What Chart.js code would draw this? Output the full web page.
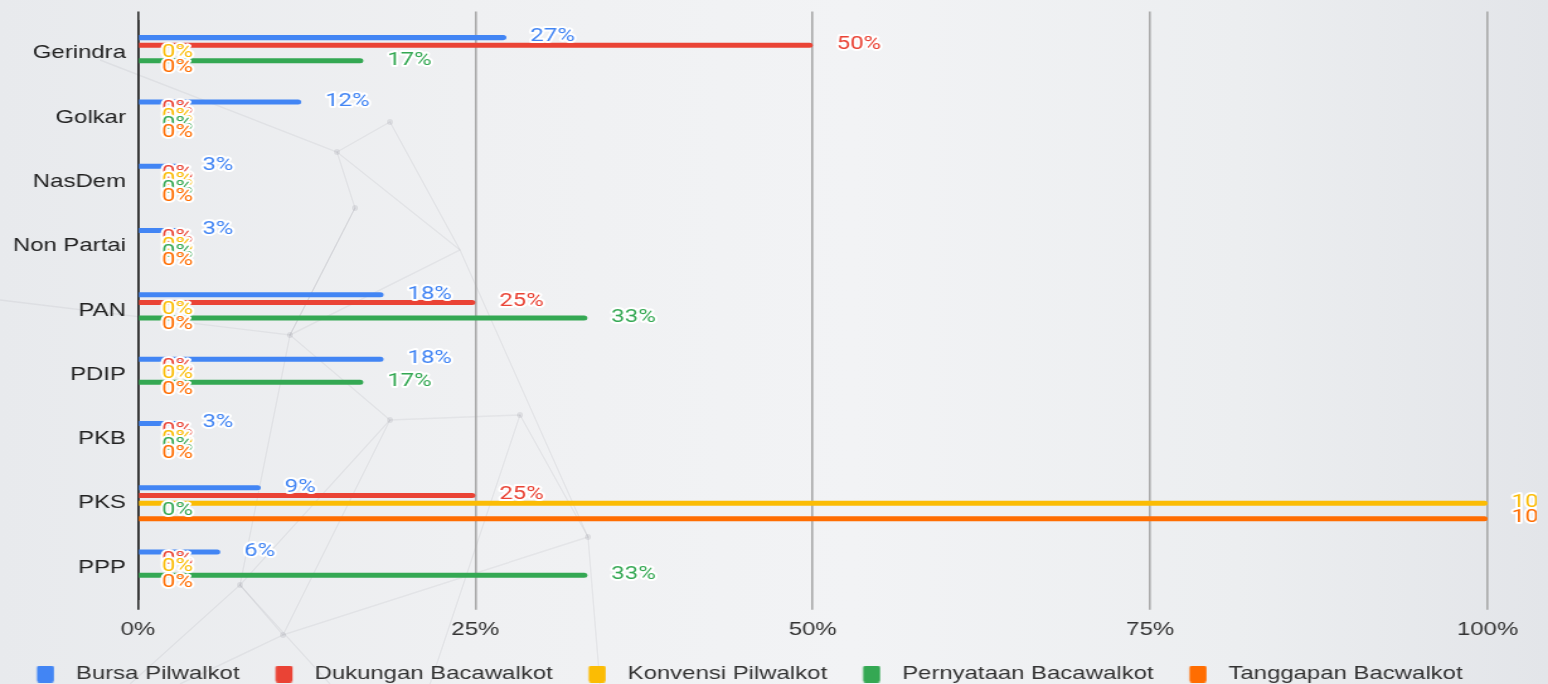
<!DOCTYPE html>
<html>
<head>
<meta charset="utf-8">
<script src="https://cdn.jsdelivr.net/npm/chart.js@4/dist/chart.umd.min.js"></script>
<style>
  html, body { margin: 0; padding: 0; overflow: hidden; }
  body {
    width: 1548px; height: 684px; position: relative;
    background: linear-gradient(90deg, #e8eaed 0%, #eff0f2 30%, #f2f3f5 55%, #eceef0 80%, #e3e5e9 100%);
  }
  #bg { position: absolute; left: 0; top: 0; filter: blur(0.6px); }
  #chart { position: absolute; left: 0; top: 0; transform: scaleX(1.2596); transform-origin: 0 0; }
</style>
</head>
<body>
<svg id="bg" width="1548" height="684">
  <g stroke="rgba(110,115,125,0.09)" stroke-width="1.4" fill="none">
    <path d="M337 152 L390 122 L460 250 L290 335 L390 420 L520 415 L588 537 L283 635 L240 585 L390 420"/>
    <path d="M337 152 L355 208 L290 335 L240 585 L130 684"/>
    <path d="M100 60 L337 152 L460 250 L588 537 L600 684"/>
    <path d="M390 420 L283 635 L180 684 M240 585 L330 684 M520 415 L430 684"/>
    <path d="M0 300 L290 335 L355 208"/>
  </g>
  <g fill="rgba(110,115,125,0.14)">
    <circle cx="337" cy="152" r="3"/><circle cx="390" cy="122" r="3"/><circle cx="290" cy="335" r="3"/>
    <circle cx="390" cy="420" r="3"/><circle cx="520" cy="415" r="3"/><circle cx="240" cy="585" r="3"/>
    <circle cx="283" cy="635" r="3"/><circle cx="588" cy="537" r="3"/><circle cx="355" cy="208" r="3"/>
  </g>
</svg>
<canvas id="chart" width="1229" height="684"></canvas>
<script>
const categories = ['Gerindra', 'Golkar', 'NasDem', 'Non Partai', 'PAN', 'PDIP', 'PKB', 'PKS', 'PPP'];
const seriesNames = ['Bursa Pilwalkot', 'Dukungan Bacawalkot', 'Konvensi Pilwalkot', 'Pernyataan Bacawalkot', 'Tanggapan Bacwalkot'];
const seriesColors = ['#4285f4', '#ea4335', '#fbbc04', '#34a853', '#ff6d01'];
// values in percent
const bursa      = [27.3, 12.1, 3.0, 3.0, 18.2, 18.2, 3.0, 9.1, 6.1];
const dukungan   = [50, 0, 0, 0, 25, 0, 0, 25, 0];
const konvensi   = [0, 0, 0, 0, 0, 0, 0, 100, 0];
const pernyataan = [16.7, 0, 0, 0, 33.3, 16.7, 0, 0, 33.3];
const tanggapan  = [0, 0, 0, 0, 0, 0, 0, 100, 0];
const xTicks = [0, 25, 50, 75, 100];

const seriesValues = [bursa, dukungan, konvensi, pernyataan, tanggapan];

Chart.defaults.font.family = '"Liberation Sans", Arial, sans-serif';

// legend swatch: colored square with some space around it
function swatch(color) {
    let c = document.createElement('canvas');
    c.width = 35; c.height = 17;
    let g = c.getContext('2d');
    g.fillStyle = color;
    g.beginPath();
    g.roundRect(13.5, 0, 13.5, 17, 2);
    g.fill();
    return c;
}

const gridColor = ctx => ctx.index === 0 ? '#2b2b2b' : 'rgba(165,165,165,0.95)';
const gridWidth = 1.6;

const barLabels = {
    id: 'barLabels',
    afterDatasetsDraw(chart) {
        let ctx = chart.ctx;
        ctx.save();
        ctx.beginPath();
        ctx.rect(0, 0, 1220, chart.height);
        ctx.clip();
        ctx.font = '19px Roboto';
        ctx.textAlign = 'left';
        ctx.textBaseline = 'middle';
        ctx.lineJoin = 'round';
        ctx.lineWidth = 4;
        ctx.strokeStyle = '#ffffff';
        chart.data.datasets.forEach((ds, i) => {
            let meta = chart.getDatasetMeta(i);
            meta.data.forEach((bar, j) => {
                let txt = Math.round(ds.data[j]) + '%';
                ctx.fillStyle = ds.backgroundColor;
                ctx.strokeText(txt, bar.x + 19, bar.y - 1);
                ctx.fillText(txt, bar.x + 19, bar.y - 1);
            });
        });
        ctx.restore();
    }
};

new Chart(document.getElementById('chart').getContext('2d'), {
    type: 'bar',
    data: {
        labels: categories,
        datasets: seriesNames.map((name, i) => ({
            label: name,
            data: seriesValues[i],
            backgroundColor: seriesColors[i],
            borderWidth: 0,
            borderRadius: 3,
            borderSkipped: 'start',
            categoryPercentage: 0.6,
            barPercentage: 0.65
        }))
    },
    options: {
        indexAxis: 'y',
        responsive: false,
        animation: false,
        layout: { padding: { top: 7, right: 48, bottom: -9.5, left: -4 } },
        scales: {
            x: {
                min: 0, max: 100,
                afterBuildTicks: s => { s.ticks = xTicks.map(v => ({ value: v })); },
                ticks: { callback: v => v + '%', color: '#333', font: { size: 19 }, padding: 8.5, maxRotation: 0 },
                grid: { color: gridColor, lineWidth: gridWidth, tickLength: 10 },
                border: { display: false }
            },
            x2: {
                type: 'linear', position: 'top',
                min: 0, max: 100,
                afterBuildTicks: s => { s.ticks = xTicks.map(v => ({ value: v })); },
                ticks: { display: false },
                grid: { color: gridColor, lineWidth: gridWidth, tickLength: 9.5, drawOnChartArea: false },
                border: { display: false }
            },
            y: {
                afterFit: s => { s.width = 113.5; },
                ticks: { color: '#222', font: { size: 19 }, padding: 9.5 },
                grid: { display: false, drawTicks: false },
                border: { display: true, color: '#2b2b2b', width: 1.6 }
            }
        },
        plugins: {
            tooltip: { enabled: false },
            legend: {
                position: 'bottom',
                labels: {
                    usePointStyle: true,
                    pointStyleWidth: 35,
                    padding: 15,
                    color: '#333',
                    font: { size: 19 },
                    generateLabels: chart => {
                        let items = Chart.defaults.plugins.legend.labels.generateLabels(chart);
                        items.forEach((it, i) => { it.pointStyle = swatch(seriesColors[i]); });
                        return items;
                    }
                }
            }
        }
    },
    plugins: [barLabels]
});
</script>
</body>
</html>
